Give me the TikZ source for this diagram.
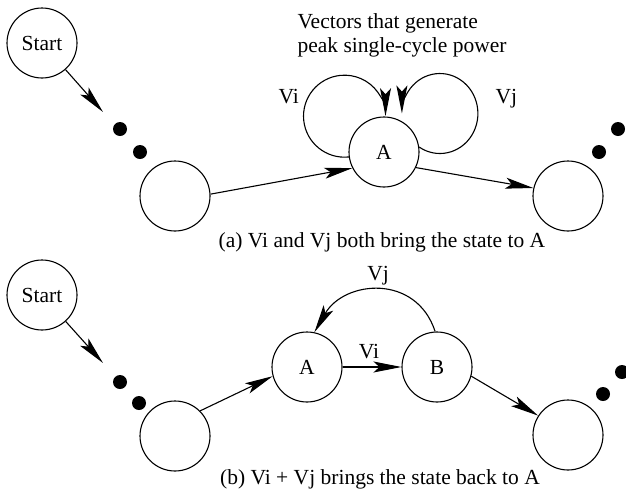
\documentclass[tikz,border=0pt]{standalone}
\usepackage{fontspec}
\setmainfont{Liberation Serif}
\usetikzlibrary{arrows.meta}
\begin{document}
\begin{tikzpicture}[x=1pt,y=-1pt,
  line width=1.1pt,
  state/.style={draw,circle,minimum size=70pt,inner sep=0pt},
  arr/.style={-{Stealth[length=28pt,width=11pt,inset=6pt]}},
  dot/.style={fill,circle,minimum size=14pt,inner sep=0pt},
  lbl/.style={anchor=base,inner sep=0pt},
  font=\fontsize{21.5}{25}\selectfont]
\useasboundingbox (0,0) rectangle (626,488);

% ---------- (a) ----------
\node[state] (sa) at (42,43) {Start};
\coordinate (ta) at (103,112);
\node[dot] (da1) at (120,129) {};
\node[dot] (da2) at (140,152) {};
\node[state] (la) at (175,196) {};
\node[state] (A1) at (384,152) {A};
\node[state] (ra) at (568,196) {};
\node[dot] (da3) at (599,152) {};
\node[dot] (da4) at (618,129) {};

\draw[arr] (sa) -- (ta);
\draw[arr] (la.3) -- (A1.207);
\draw[arr] (A1.-26) -- (ra.167);
% self loops on A (arc angles run clockwise because y points down)
\draw[arr] (A1.188) arc[start angle=84, end angle=360, x radius=41, y radius=41];
\draw[arr] (A1.8) arc[start angle=123, end angle=-180, x radius=38, y radius=40];

\node[lbl,anchor=base west] (vi1) at (278,103) {Vi};
\node[lbl,anchor=base west] (vj1) at (495,103) {Vj};
\node[lbl,anchor=base west] (h1) at (297,28) {Vectors that generate};
\node[lbl,anchor=base west] (h2) at (297,52) {peak single-cycle power};
\node[lbl] (capa) at (382,247) {(a) Vi and Vj both bring the state to A};

% ---------- (b) ----------
\node[state] (sb) at (42,295) {Start};
\coordinate (tb) at (103,363);
\node[dot] (db1) at (120,382) {};
\node[dot] (db2) at (139,403) {};
\node[state] (lb) at (175,436) {};
\node[state] (A2) at (307,367) {A};
\node[state] (B2) at (437,367) {B};
\node[state] (rb) at (568,435) {};
\node[dot] (db3) at (603,394) {};
\node[dot] (db4) at (622,372) {};

\draw[arr] (sb) -- (tb);
\draw[arr] (lb.45) -- (A2.195);
\draw[arr] (A2) -- (B2);
\draw[arr] (B2.-15) -- (rb.147);
\draw[arr] (B2.93) .. controls +(-19,-58) and +(30,-52) .. (A2.78);

\node[lbl] (vi2) at (369,358) {Vi};
\node[lbl] (vj2) at (378,280) {Vj};
\node[lbl] (capb) at (380,484) {(b) Vi + Vj brings the state back to A};
\end{tikzpicture}
\end{document}
